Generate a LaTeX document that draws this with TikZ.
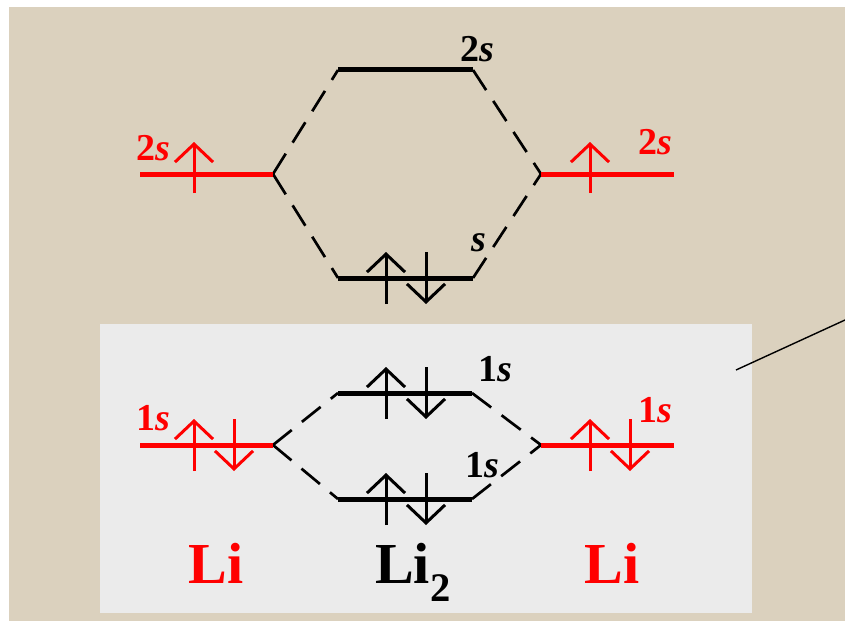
\documentclass[tikz,border=0pt]{standalone}
\usepackage{fontspec}
\setmainfont{Liberation Serif}
\usetikzlibrary{arrows.meta}
\definecolor{INK}{HTML}{000000}
\definecolor{ATOM}{HTML}{FF0000}
\definecolor{PAPER}{HTML}{DBD1BE}
\definecolor{PANEL}{HTML}{EBEBEB}

\begin{document}
\begin{tikzpicture}[
  x=1pt, y=-1pt,
  font=\bfseries,
  lvl/.style={draw=INK, line width=5pt},
  atomlvl/.style={draw=ATOM, line width=5pt},
  corr/.style={draw=INK, line width=2.7pt, dash pattern=on 24pt off 13pt},
  spin/.style={line width=3pt, -{Straight Barb[length=18pt,width=38pt]}},
  orb/.style={font=\fontsize{38}{38}\selectfont\bfseries, inner sep=0pt},
  atomname/.style={font=\fontsize{58}{58}\selectfont\bfseries, inner sep=0pt, anchor=base},
]
\useasboundingbox (0,0) rectangle (845,623);

% backdrop and inset panel
\fill[PAPER] (9,7) rectangle (845,621);
\fill[PANEL] (100,324) rectangle (752,613);

% level end points: L/R = atoms, S = bonding, A = antibonding
\coordinate (L2s-w) at (140,174); \coordinate (L2s-e) at (273,174);
\coordinate (R2s-w) at (541,174); \coordinate (R2s-e) at (674,174);
\coordinate (A2s-w) at (338,70);  \coordinate (A2s-e) at (473,70);
\coordinate (S2s-w) at (338,278); \coordinate (S2s-e) at (473,278);
\coordinate (L1s-w) at (140,445); \coordinate (L1s-e) at (273,445);
\coordinate (R1s-w) at (541,445); \coordinate (R1s-e) at (674,445);
\coordinate (A1s-w) at (338,393); \coordinate (A1s-e) at (472,393);
\coordinate (S1s-w) at (338,499); \coordinate (S1s-e) at (472,499);

% 2s block
\draw[corr] (L2s-e) -- (A2s-w);
\draw[corr] (L2s-e) -- (S2s-w);
\draw[corr] (A2s-e) -- (R2s-w);
\draw[corr] (S2s-e) -- (R2s-w);
\draw[atomlvl] (L2s-w) -- (L2s-e);
\draw[atomlvl] (R2s-w) -- (R2s-e);
\draw[lvl] (A2s-w) -- (A2s-e);
\draw[lvl] (S2s-w) -- (S2s-e);

% 1s block
\draw[corr] (L1s-e) -- (A1s-w);
\draw[corr] (L1s-e) -- (S1s-w);
\draw[corr] (A1s-e) -- (R1s-w);
\draw[corr] (S1s-e) -- (R1s-w);
\draw[atomlvl] (L1s-w) -- (L1s-e);
\draw[atomlvl] (R1s-w) -- (R1s-e);
\draw[lvl] (A1s-w) -- (A1s-e);
\draw[lvl] (S1s-w) -- (S1s-e);

% electrons: single ones on the atomic 2s levels
\foreach \x in {194,590} { \draw[spin, ATOM] (\x,193) -- (\x,142); }
% paired ones (up at x, down at x+40)
\foreach \x/\y/\c in {194/445/ATOM, 590/445/ATOM, 386/393/INK, 386/499/INK, 386/278/INK} {
  \draw[spin, \c] (\x,{\y+26}) -- (\x,{\y-26});
  \draw[spin, \c] ({\x+40},{\y-26}) -- ({\x+40},{\y+26});
}

% orbital labels
\node[orb, text=ATOM] (lbl-L2s) at (153,148) {2\textit{s}};
\node[orb, text=ATOM] (lbl-R2s) at (655,142) {2\textit{s}};
\node[orb] (lbl-A2s) at (477,49) {2\textit{s}};
\node[orb] (lbl-S2s) at (479,243) {\textit{s}};
\node[orb, text=ATOM] (lbl-L1s) at (153,418) {1\textit{s}};
\node[orb, text=ATOM] (lbl-R1s) at (655,410) {1\textit{s}};
\node[orb] (lbl-A1s) at (495,369) {1\textit{s}};
\node[orb] (lbl-S1s) at (482,465) {1\textit{s}};

% species
\node[atomname, text=ATOM] (li-l) at (216,583) {Li};
\node[atomname] (li2) at (413,583) {Li\textsubscript{2}};
\node[atomname, text=ATOM] (li-r) at (612,583) {Li};

% pointer leaving the panel
\coordinate (ptr) at (736,370);
\coordinate (ptr-end) at (845,320);
\draw[line width=1.4pt] (ptr) -- (ptr-end);

\end{tikzpicture}
\end{document}
